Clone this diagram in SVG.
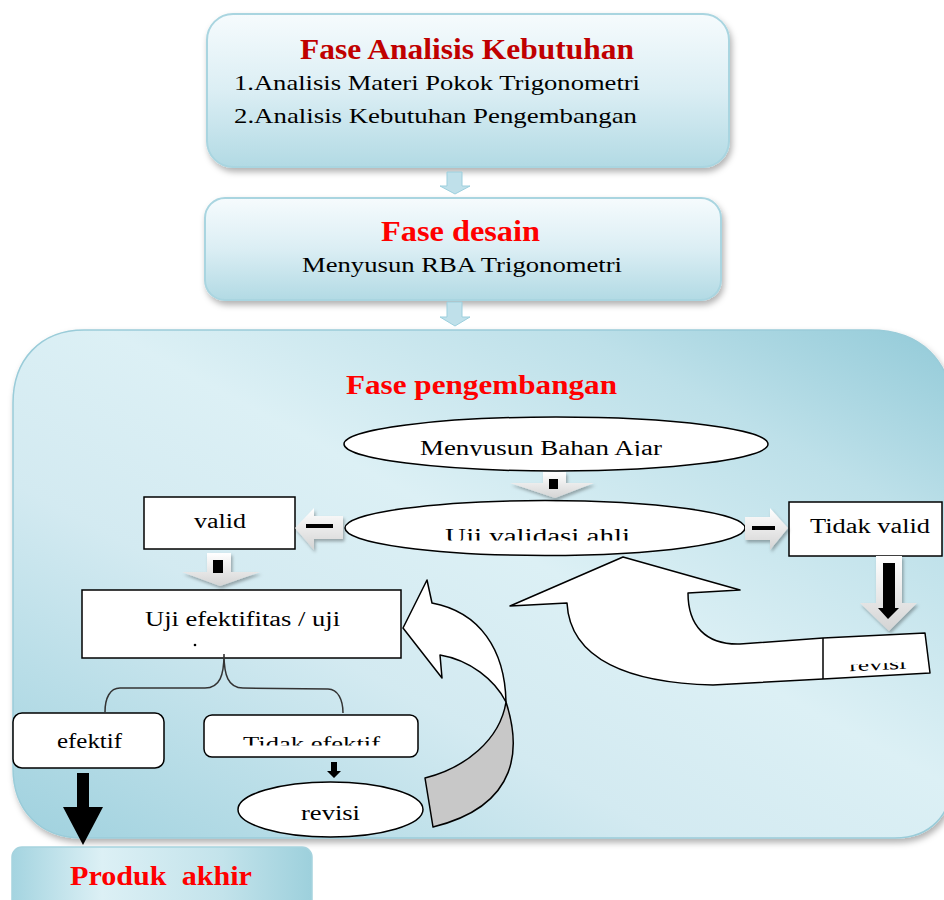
<svg xmlns="http://www.w3.org/2000/svg" width="944" height="900" viewBox="0 0 944 900">
<defs>
<linearGradient id="gTop" x1="0" y1="0" x2="0" y2="1">
<stop offset="0" stop-color="#f6fbfd"/><stop offset="0.5" stop-color="#dbeef4"/><stop offset="1" stop-color="#b2dae4"/>
</linearGradient>
<linearGradient id="gDev" x1="0" y1="1" x2="1" y2="0">
<stop offset="0" stop-color="#9fd1de"/><stop offset="0.35" stop-color="#d3eaf1"/><stop offset="0.55" stop-color="#dcf0f5"/><stop offset="0.8" stop-color="#bde0e9"/><stop offset="1" stop-color="#92cad8"/>
</linearGradient>
<linearGradient id="gProd" x1="0" y1="0" x2="1" y2="0">
<stop offset="0" stop-color="#a4d4e0"/><stop offset="0.3" stop-color="#dcf0f5"/><stop offset="0.7" stop-color="#c3e3eb"/><stop offset="1" stop-color="#9dd0dc"/>
</linearGradient>
<linearGradient id="gArr" x1="0" y1="0" x2="0" y2="1">
<stop offset="0" stop-color="#ffffff"/><stop offset="1" stop-color="#d4d4d4"/>
</linearGradient>
<filter id="sh" x="-10%" y="-10%" width="120%" height="130%">
<feDropShadow dx="2" dy="4" stdDeviation="3" flood-color="#000" flood-opacity="0.3"/>
</filter>
<filter id="sh2" x="-20%" y="-20%" width="140%" height="150%">
<feDropShadow dx="1.5" dy="2.5" stdDeviation="1.5" flood-color="#000" flood-opacity="0.3"/>
</filter>
<clipPath id="cMenyusun"><rect x="340" y="420" width="440" height="36"/></clipPath>
<clipPath id="cUji"><rect x="340" y="505" width="420" height="35.5"/></clipPath>
<clipPath id="cTidakEf"><rect x="205" y="715" width="213" height="30.5"/></clipPath>
<clipPath id="cRevR"><rect x="825" y="663.5" width="105" height="20"/></clipPath>
</defs>
<style>
.serif{font-family:"Liberation Serif","Times New Roman",serif}
.ttl{font-family:"Liberation Serif","Times New Roman",serif;font-weight:bold}
.box{fill:#fff;stroke:#000;stroke-width:1.5}
.topbox{fill:url(#gTop);stroke:#a9d5e0;stroke-width:2}
.blk{fill:#000}
.light{fill:url(#gArr);filter:url(#sh2)}
.lb{fill:#bfe0ea;stroke:#9ccfdd;stroke-width:1}
</style>

<g id="fase-analisis">
<rect class="topbox" x="207" y="14" width="522" height="153" rx="26" filter="url(#sh)"/>
<text class="ttl" x="300" y="59" font-size="30" fill="#c00000" textLength="334" lengthAdjust="spacingAndGlyphs">Fase Analisis Kebutuhan</text>
<text class="serif" x="234" y="90" font-size="22" textLength="406" lengthAdjust="spacingAndGlyphs">1.Analisis Materi Pokok Trigonometri</text>
<text class="serif" x="234" y="123" font-size="22" textLength="403" lengthAdjust="spacingAndGlyphs">2.Analisis Kebutuhan Pengembangan</text>
</g>

<g id="fase-desain">
<rect class="topbox" x="205" y="198" width="516" height="102" rx="20" filter="url(#sh)"/>
<text class="ttl" x="381" y="241" font-size="30" fill="#ff0000" textLength="159" lengthAdjust="spacingAndGlyphs">Fase desain</text>
<text class="serif" x="302" y="272" font-size="22" textLength="320" lengthAdjust="spacingAndGlyphs">Menyusun RBA Trigonometri</text>
</g>

<g id="fase-pengembangan">
<path d="M13,403 C13,360 40,330 84,330 L870,330 C920,330 952,360 952,410 L952,780 C952,815 930,838 895,838 L82,838 C40,838 13,810 13,768 Z" fill="url(#gDev)" stroke="#9accd9" stroke-width="1.5" filter="url(#sh)"/>
<text class="ttl" x="346" y="394" font-size="28" fill="#ff0000" textLength="271" lengthAdjust="spacingAndGlyphs">Fase pengembangan</text>
</g>

<g id="menyusun-bahan-ajar">
<ellipse class="box" cx="556" cy="444" rx="212" ry="27"/>
<text class="serif" x="420" y="455" font-size="20" textLength="242" lengthAdjust="spacingAndGlyphs" clip-path="url(#cMenyusun)">Menyusun Bahan Ajar</text>
</g>

<g id="uji-validasi-ahli">
<ellipse class="box" cx="545" cy="528" rx="200" ry="27.5"/>
<text class="serif" x="445" y="543" font-size="20" textLength="185" lengthAdjust="spacingAndGlyphs" clip-path="url(#cUji)">Uji validasi ahli</text>
</g>

<g id="valid">
<rect class="box" x="144" y="497" width="151" height="52"/>
<text class="serif" x="194" y="528" font-size="20" textLength="52" lengthAdjust="spacingAndGlyphs">valid</text>
</g>

<g id="tidak-valid">
<rect class="box" x="789" y="502" width="153" height="54"/>
<text class="serif" x="810" y="533" font-size="20" textLength="120" lengthAdjust="spacingAndGlyphs">Tidak valid</text>
</g>

<g id="uji-efektifitas">
<rect class="box" x="82" y="590" width="319" height="68"/>
<text class="serif" x="145" y="626" font-size="20" textLength="195" lengthAdjust="spacingAndGlyphs">Uji efektifitas / uji</text>
<circle cx="195" cy="645" r="1.3" fill="#000"/>
</g>

<g id="efektif">
<rect class="box" x="13" y="713" width="151" height="55" rx="9"/>
<text class="serif" x="57" y="748" font-size="20" textLength="65" lengthAdjust="spacingAndGlyphs">efektif</text>
</g>

<g id="tidak-efektif">
<rect class="box" x="204" y="715" width="214" height="42" rx="8"/>
<text class="serif" x="243" y="750" font-size="19" textLength="137" lengthAdjust="spacingAndGlyphs" clip-path="url(#cTidakEf)">Tidak efektif</text>
</g>

<g id="revisi-bawah">
<ellipse class="box" cx="330.5" cy="809.5" rx="92.5" ry="27.5"/>
<text class="serif" x="301" y="820" font-size="20" textLength="59" lengthAdjust="spacingAndGlyphs">revisi</text>
</g>

<g id="produk-akhir">
<rect x="12" y="847" width="300" height="70" rx="10" fill="url(#gProd)" stroke="#a6d3de" stroke-width="1.5"/>
<text class="ttl" x="70" y="885" font-size="28" fill="#ff0000" textLength="182" lengthAdjust="spacingAndGlyphs" xml:space="preserve">Produk  akhir</text>
</g>

<g id="connectors">
<path class="lb" d="M447,172 L462,172 L462,186 L470,186 L455,194 L440,186 L447,186 Z"/>
<path class="lb" d="M447,302 L462,302 L462,317 L470,317 L455,326 L440,317 L447,317 Z"/>
<path class="light" d="M543,472 L566,472 L566,483 L594,483 L555,498 L510,483 L543,483 Z"/>
<rect class="blk" x="549" y="479" width="9" height="10"/>
<path class="light" d="M295,528 L314,508 L314,516 L343,516 L343,539 L314,539 L314,550 Z"/>
<rect class="blk" x="306" y="524" width="27" height="4"/>
<path class="light" d="M745,517 L770,517 L770,508 L788,528 L770,550 L770,540 L745,540 Z"/>
<rect class="blk" x="752" y="526" width="23" height="4"/>
<path class="light" d="M207,553 L231,553 L231,572 L260,572 L220,586 L182,572 L207,572 Z"/>
<rect class="blk" x="213" y="560" width="10" height="13"/>
<path class="light" d="M876,556 L902,556 L902,603 L917,603 L889,631 L860,603 L876,603 Z"/>
<path class="blk" d="M883,563 L895,563 L895,608 L899,608 L888,619 L878,608 L883,608 Z"/>
<path fill="none" stroke="#333" stroke-width="1.5" d="M224,654 C224,675 220,688 205,688 L120,688 C110,688 105,698 105,712 M224,654 C224,675 228,688 243,688 L328,689 C338,689 343,700 343,713"/>
<path class="blk" d="M331,762 L337,762 L337,771 L341,771 L334,778 L327,771 L331,771 Z"/>
<path class="blk" d="M77,773 L89,773 L89,807 L103,807 L83,845 L63,807 L77,807 Z"/>
<path fill="#fff" stroke="#000" stroke-width="1.5" stroke-linejoin="round" d="M403,628 L427,580 L432,603 C480,612 505,650 506,702 C495,680 470,660 440,655 L442,678 Z"/>
<path fill="#c8c8c8" stroke="#000" stroke-width="1.5" stroke-linejoin="round" d="M506,702 C520,745 522,805 433,827 L425,778 C465,768 500,740 506,702 Z"/>
<path fill="#fff" stroke="#000" stroke-width="1.5" stroke-linejoin="round" d="M623,557 L740,590 L688,593 C688,625 705,645 740,644 L823,638 L925,633 L930,673 L823,679 L713,685 C630,683 570,660 567,603 L510,606 Z"/>
<path fill="none" stroke="#000" stroke-width="1.5" d="M823,638 L823,679"/>
<text class="serif" x="849" y="670" font-size="17" textLength="57" lengthAdjust="spacingAndGlyphs" transform="rotate(-2.8 877 660)" clip-path="url(#cRevR)">revisi</text>
</g>
</svg>
